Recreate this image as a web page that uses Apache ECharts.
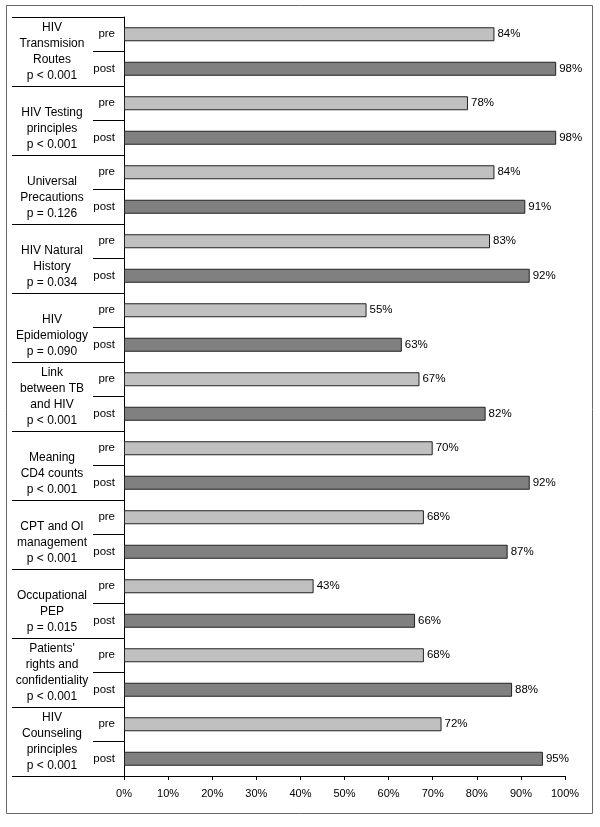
<!DOCTYPE html>
<html><head><meta charset="utf-8">
<script src="https://cdn.jsdelivr.net/npm/echarts@6/dist/echarts.min.js"></script>
<style>html,body{margin:0;padding:0;background:#fff}#c{width:600px;height:827px}</style>
</head><body><div id="c"></div>
<script>
const groups = [
  "HIV\nTransmision\nRoutes\np < 0.001",
  "HIV Testing\nprinciples\np < 0.001",
  "Universal\nPrecautions\np = 0.126",
  "HIV Natural\nHistory\np = 0.034",
  "HIV\nEpidemiology\np = 0.090",
  "Link\nbetween TB\nand HIV\np < 0.001",
  "Meaning\nCD4 counts\np < 0.001",
  "CPT and OI\nmanagement\np < 0.001",
  "Occupational\nPEP\np = 0.015",
  "Patients'\nrights and\nconfidentiality\np < 0.001",
  "HIV\nCounseling\nprinciples\np < 0.001"
];
const phases = ["pre", "post"];
const preValues  = [84, 78, 84, 83, 55, 67, 70, 68, 43, 68, 72];
const postValues = [98, 98, 91, 92, 63, 82, 92, 87, 66, 88, 95];
const xTicks = [0,10,20,30,40,50,60,70,80,90,100];

const subCats = [];
const preData = [];
const postData = [];
groups.forEach((g, i) => {
  subCats.push(phases[0]); subCats.push(phases[1]);
  preData.push(preValues[i]); preData.push('-');
  postData.push('-'); postData.push(postValues[i]);
});

const font = "'Liberation Sans', Arial, sans-serif";
const chart = echarts.init(document.getElementById('c'));
chart.setOption({
  animation: false,
  textStyle: { fontFamily: font },
  graphic: [{
    type: 'rect', shape: { x: 6.5, y: 5.5, width: 586, height: 808 },
    style: { fill: 'none', stroke: '#666', lineWidth: 1 }, silent: true
  }],
  grid: { left: 124, right: 35, top: 17, bottom: 51 },
  xAxis: {
    type: 'value', min: xTicks[0], max: xTicks[xTicks.length - 1], interval: 10,
    axisLine: { show: true, lineStyle: { color: '#000', width: 1 } },
    axisTick: { show: true, length: 4, lineStyle: { color: '#000' } },
    splitLine: { show: false },
    axisLabel: { formatter: '{value}%', color: '#000', fontSize: 11, margin: 12, fontFamily: font }
  },
  yAxis: [{
    type: 'category', data: subCats, inverse: true,
    axisLine: { show: true, lineStyle: { color: '#000', width: 1 } },
    axisTick: { show: true, length: 31, lineStyle: { color: '#000' } },
    axisLabel: { color: '#000', fontSize: 11.5, margin: 9, fontFamily: font }
  }, {
    type: 'category', data: groups, inverse: true, position: 'left',
    axisLine: { show: false },
    axisTick: { show: true, length: 112, lineStyle: { color: '#000' } },
    axisLabel: {
      color: '#000', fontSize: 12, lineHeight: 16, align: 'center', margin: 72, fontFamily: font,
      formatter: v => (v.split('\n').length < 4 ? '\n' : '') + v
    }
  }],
  series: [{
    name: 'pre', type: 'bar', yAxisIndex: 0, data: preData, barWidth: 14, barGap: '-100%',
    itemStyle: { color: '#c0c0c0', borderColor: '#222', borderWidth: 1 },
    label: { show: true, position: 'right', distance: 3, formatter: '{c}%', color: '#000', fontSize: 11.5, fontFamily: font }
  }, {
    name: 'post', type: 'bar', yAxisIndex: 0, data: postData, barWidth: 14, barGap: '-100%',
    itemStyle: { color: '#808080', borderColor: '#222', borderWidth: 1 },
    label: { show: true, position: 'right', distance: 3, formatter: '{c}%', color: '#000', fontSize: 11.5, fontFamily: font }
  }]
});
</script></body></html>
